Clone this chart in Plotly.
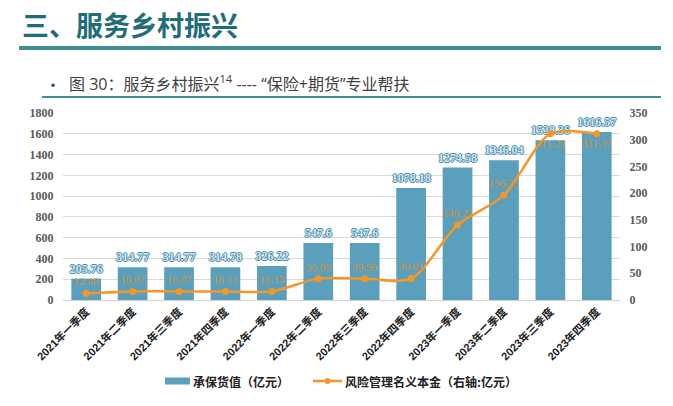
import plotly.graph_objects as go

categories = ["2021年一季度", "2021年二季度", "2021年三季度", "2021年四季度",
              "2022年一季度", "2022年二季度", "2022年三季度", "2022年四季度",
              "2023年一季度", "2023年二季度", "2023年三季度", "2023年四季度"]
insured_value = [205.76, 314.77, 314.77, 314.78, 326.22, 547.6, 547.6,
                 1078.18, 1274.58, 1346.04, 1538.36, 1616.57]
notional = [12.46, 16.07, 16.07, 16.13, 16.13, 39.99, 39.99,
            40.01, 140.27, 196.39, 311.23, 311.37]
line_label_pos = ["top center"] * 10 + ["bottom center"] * 2
left_ticks = list(range(0, 1801, 200))
right_ticks = list(range(0, 351, 50))
bar_name = "承保货值（亿元）"
line_name = "风险管理名义本金（右轴:亿元）"

L, R, T, B = 63, 53, 113, 106
W, H = 673, 406
pw, ph = W - L - R, H - T - B

BAR_COLOR = "#5a9fbb"
LINE_COLOR = "#f5962a"


def px(x):
    return (x - L) / pw


def py(y):
    return (H - B - y) / ph


outline = "#4a8cab"
bar_shadow = (f"1px 0 0 {outline}, -1px 0 0 {outline}, 0 1px 0 {outline}, "
              f"0 -1px 0 {outline}")

fig = go.Figure()
fig.add_trace(go.Bar(
    x=categories, y=insured_value, name=bar_name,
    marker=dict(color=BAR_COLOR, line=dict(width=0)),
    width=0.64,
    text=[f"{v:g}" for v in insured_value], textposition="outside",
    constraintext="none",
    textfont=dict(family="Liberation Serif", size=12, color="#cfe8f3",
                  weight="bold", shadow=bar_shadow),
    cliponaxis=False, showlegend=False,
))
fig.add_trace(go.Scatter(
    x=categories, y=notional, name=line_name, yaxis="y2",
    mode="lines+markers+text",
    line=dict(color=LINE_COLOR, width=2.5, shape="spline", smoothing=0.8),
    marker=dict(color=LINE_COLOR, size=7),
    text=[f"{v:.2f}" for v in notional], textposition=line_label_pos,
    textfont=dict(family="Liberation Serif", size=11, color="#d3953a"),
    cliponaxis=False, showlegend=False,
))

fig.update_layout(
    width=W, height=H,
    margin=dict(l=L, r=R, t=T, b=B, autoexpand=False),
    paper_bgcolor="white", plot_bgcolor="white",
    showlegend=False,
    xaxis=dict(type="category", tickangle=-45, showgrid=False,
               showline=True, linecolor="#d0d0d0",
               tickfont=dict(family="Liberation Sans, Noto Sans CJK SC", size=11,
                             color="#202020", weight="bold"),
               ticks="", range=[-0.5, 11.5], automargin=False),
    yaxis=dict(range=[0, 1800], tickvals=left_ticks, showgrid=True,
               gridcolor="#d9d9d9", gridwidth=1, zeroline=False,
               tickfont=dict(family="Liberation Serif", size=12, color="#595959", weight="bold"),
               ticks="outside", ticklen=6, tickcolor="white", automargin=False),
    yaxis2=dict(range=[0, 350], tickvals=right_ticks, overlaying="y", side="right",
                showgrid=False, zeroline=False,
                tickfont=dict(family="Liberation Serif", size=12, color="#595959", weight="bold"),
                ticks="outside", ticklen=6, tickcolor="white", automargin=False),
)

# Header
fig.add_annotation(text="<b>三、服务乡村振兴</b>", xref="paper", yref="paper",
                   x=px(20), y=py(24), xanchor="left", yanchor="middle",
                   showarrow=False,
                   font=dict(family="Noto Sans CJK SC", size=27, color="#1f6d78"))
fig.add_shape(type="line", xref="paper", yref="paper",
              x0=px(19), x1=px(661), y0=py(48), y1=py(48),
              line=dict(color="#3f8e95", width=4))
fig.add_annotation(text="•", xref="paper", yref="paper",
                   x=px(43), y=py(84), xanchor="left", yanchor="middle",
                   showarrow=False,
                   font=dict(family="Noto Sans CJK SC", size=16, color="#1f5f6a"))
fig.add_annotation(text="图 30：服务乡村振兴<sup>14</sup> ---- “保险+期货”专业帮扶",
                   xref="paper", yref="paper",
                   x=px(67), y=py(83), xanchor="left", yanchor="middle",
                   showarrow=False,
                   font=dict(family="Open Sans, Noto Sans CJK SC", size=16, color="#404040"))
fig.add_shape(type="line", xref="paper", yref="paper",
              x0=px(42), x1=px(661), y0=py(97), y1=py(97),
              line=dict(color="#3f8e95", width=2))

# Legend (drawn manually to match the wide bar swatch)
LEG_Y = 381
fig.add_shape(type="rect", xref="paper", yref="paper",
              x0=px(165), x1=px(190), y0=py(LEG_Y - 3.5), y1=py(LEG_Y + 3.5),
              fillcolor=BAR_COLOR, line=dict(width=0))
fig.add_annotation(text=f"<b>{bar_name}</b>", xref="paper", yref="paper",
                   x=px(191), y=py(LEG_Y), xanchor="left", yanchor="middle",
                   showarrow=False,
                   font=dict(family="Noto Sans CJK SC", size=12, color="#202020"))
fig.add_shape(type="line", xref="paper", yref="paper",
              x0=px(313), x1=px(342), y0=py(LEG_Y), y1=py(LEG_Y),
              line=dict(color=LINE_COLOR, width=2.5))
fig.add_shape(type="circle", xref="paper", yref="paper",
              x0=px(324.5), x1=px(330.5), y0=py(LEG_Y - 3), y1=py(LEG_Y + 3),
              fillcolor=LINE_COLOR, line=dict(width=0))
fig.add_annotation(text=f"<b>{line_name}</b>", xref="paper", yref="paper",
                   x=px(343), y=py(LEG_Y), xanchor="left", yanchor="middle",
                   showarrow=False,
                   font=dict(family="Noto Sans CJK SC", size=12, color="#202020"))

fig.write_html("out.html", config={"displayModeBar": False},
               post_script="document.body.style.margin='0px';")
